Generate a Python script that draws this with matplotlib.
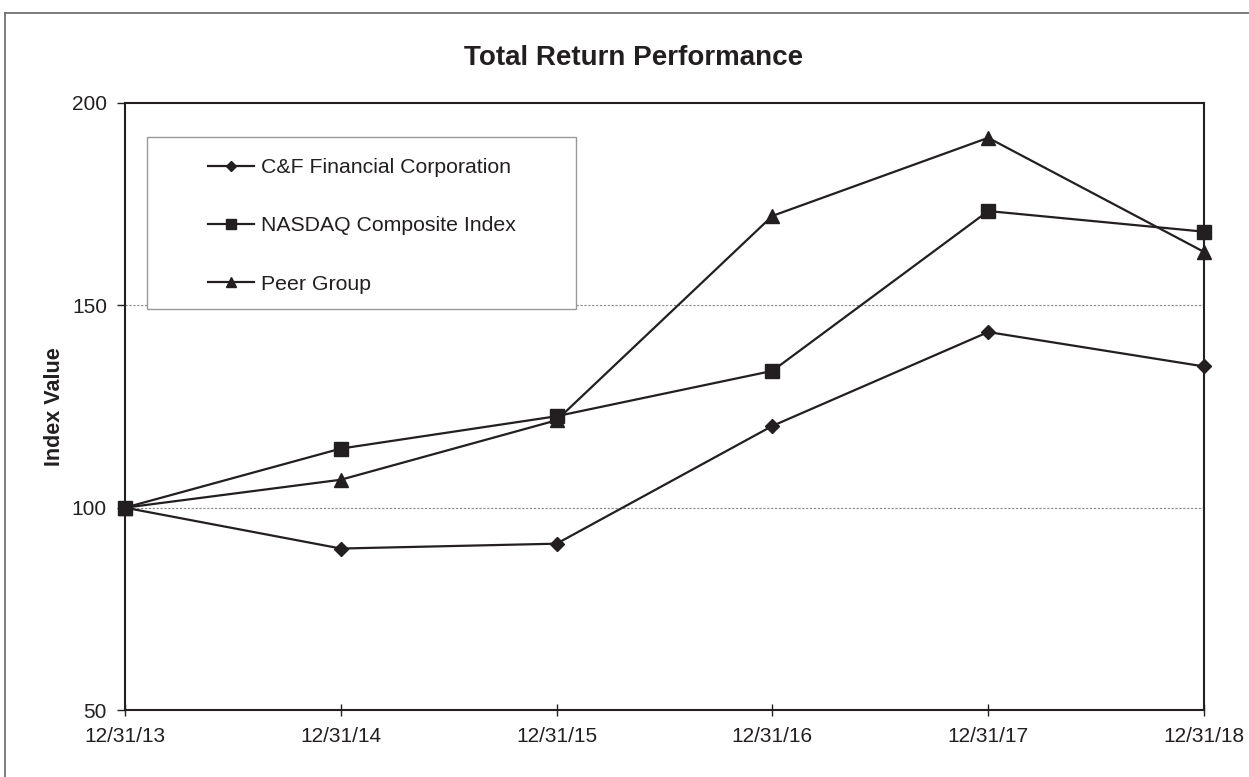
import matplotlib
matplotlib.use("Agg")
import matplotlib.pyplot as plt
from matplotlib.patches import Rectangle
from matplotlib.lines import Line2D

plt.rcParams['font.family'] = ['Liberation Sans', 'DejaVu Sans']

dates = ["12/31/13", "12/31/14", "12/31/15", "12/31/16", "12/31/17", "12/31/18"]
cf_financial = [100, 89.9, 91.1, 120.2, 143.4, 134.9]
nasdaq = [100, 114.6, 122.6, 133.8, 173.3, 168.2]
peer_group = [100, 106.9, 121.6, 172.1, 191.4, 163.2]

series_names = ["C&F Financial Corporation", "NASDAQ Composite Index", "Peer Group"]

fig = plt.figure(figsize=(12.49, 7.77), dpi=100)
ax = fig.add_axes([125/1249, 1-710/777, (1204-125)/1249, (710-103)/777])

x = list(range(len(dates)))
col = '#231f20'
ax.plot(x, cf_financial, color=col, lw=1.6, marker='D', ms=7, label=series_names[0], clip_on=False, zorder=3)
ax.plot(x, nasdaq, color=col, lw=1.6, marker='s', ms=10, label=series_names[1], clip_on=False, zorder=3)
ax.plot(x, peer_group, color=col, lw=1.6, marker='^', ms=10, label=series_names[2], clip_on=False, zorder=3)

ax.set_xlim(0, len(dates)-1)
ax.set_ylim(50, 200)
ax.set_yticks([50, 100, 150, 200])
ax.set_xticks(x)
ax.set_xticklabels(dates)
ax.tick_params(axis='x', direction='inout', length=9, width=1, colors=col, labelsize=15, pad=8)
ax.tick_params(axis='y', direction='out', length=6, width=1, colors=col, labelsize=15, pad=7)
for s in ax.spines.values():
    s.set_color(col)
    s.set_linewidth(1.5)

for yv in [100, 150]:
    ax.axhline(yv, color='#888888', lw=0.8, ls=(0, (2, 1.5)), zorder=1)

ax.set_ylabel("Index Value", fontsize=15.5, fontweight='bold', color=col, labelpad=5)
fig.text((462+805)/2/1249, 1-58/777, "Total Return Performance", ha='center', va='center',
         fontsize=20, fontweight='bold', color=col)

# legend box
ax.add_patch(Rectangle(((147-125)/1079, (710-309)/607), (576-147)/1079, (309-137)/607,
                       transform=ax.transAxes, facecolor='white', edgecolor='#999999', lw=1.0, zorder=2))
leg = ax.legend(loc='upper left', bbox_to_anchor=((208-125)/1079, (710-158)/607), frameon=False,
                borderpad=0, borderaxespad=0, handlelength=2.16, handletextpad=0.33,
                labelspacing=1.85, fontsize=15.3, numpoints=1, markerscale=0.75)
leg.set_zorder(4)
for t in leg.get_texts():
    t.set_color(col)

# outer frame
fig.add_artist(Line2D([5/1249, 1], [1-13/777, 1-13/777], color='#666666', lw=1.2, transform=fig.transFigure))
fig.add_artist(Line2D([5/1249, 5/1249], [0, 1-13/777], color='#666666', lw=1.2, transform=fig.transFigure))

fig.savefig("out.png", dpi=100)
